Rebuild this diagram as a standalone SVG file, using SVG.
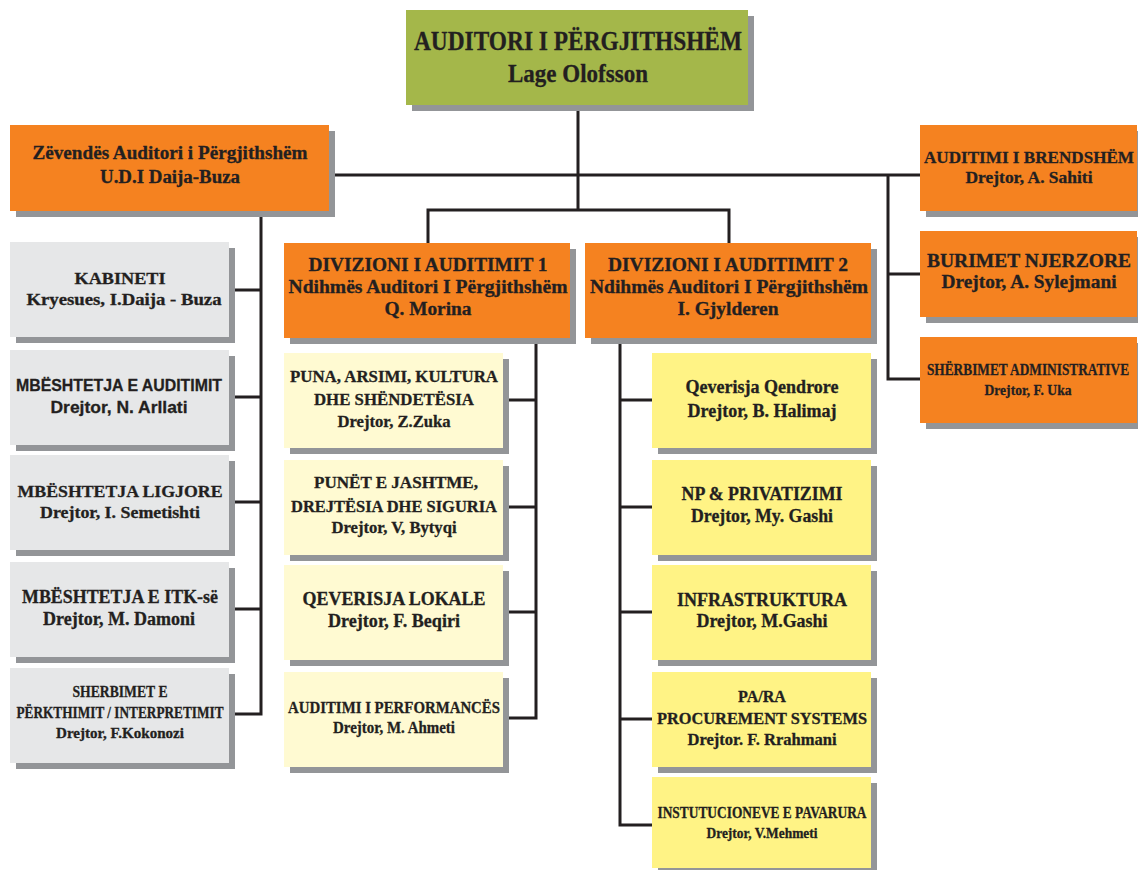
<svg xmlns="http://www.w3.org/2000/svg" width="1138" height="870" viewBox="0 0 1138 870">
<style>
.sh{fill:#939598}
.gn{fill:#A4B74A}
.or{fill:#F58220}
.gr{fill:#E6E7E8}
.ly{fill:#FFFAD2}
.ye{fill:#FFF385}
text{font-family:"Liberation Serif","Times New Roman",serif;font-weight:bold;fill:#231F20;stroke:#231F20;stroke-width:0.3px;text-anchor:middle}
.s{font-family:"Liberation Sans",Arial,sans-serif}
.f16{font-size:17px}
.f17{font-size:18px}
.f14{font-size:15px}
.cn{fill:none;stroke:#231F20;stroke-width:3}
</style>
<rect width="1138" height="870" fill="#FFFFFF"/>
<g id="connectors">
<path class="cn" d="M578 105V210M428 243V210H729V243M329 175H920M261 211V714H229M229 290H261M229 397H261M229 502H261M229 609H261M888 175V379H920M888 274H920M536 338V718H503M503 400H536M503 507H536M503 612H536M620 338V825H652M620 400H652M620 507H652M620 612H652M620 719H652"/>
</g>
<g id="auditori">
<rect class="sh" x="412" y="16" width="342" height="95"/>
<rect class="gn" x="406" y="10" width="342" height="95"/>
<text x="578" y="50" style="font-size:27px" textLength="328" lengthAdjust="spacingAndGlyphs">AUDITORI I PËRGJITHSHËM</text>
<text x="578" y="82" style="font-size:26px" textLength="140" lengthAdjust="spacingAndGlyphs">Lage Olofsson</text>
</g>
<g id="zevendes">
<rect class="sh" x="16" y="131" width="319" height="86"/>
<rect class="or" x="10" y="125" width="319" height="86"/>
<text class="f17" x="170" y="159" textLength="275" lengthAdjust="spacingAndGlyphs">Zëvendës Auditori i Përgjithshëm</text>
<text class="f17" x="170" y="183" textLength="140" lengthAdjust="spacingAndGlyphs">U.D.I Daija-Buza</text>
</g>
<g id="auditimi-brendshem">
<rect class="sh" x="926" y="131" width="217" height="86"/>
<rect class="or" x="920" y="125" width="217" height="86"/>
<text class="f16" x="1029" y="163" textLength="210" lengthAdjust="spacingAndGlyphs">AUDITIMI I BRENDSHËM</text>
<text class="f16" x="1029" y="183" textLength="127" lengthAdjust="spacingAndGlyphs">Drejtor, A. Sahiti</text>
</g>
<g id="burimet-njerzore">
<rect class="sh" x="926" y="237" width="217" height="86"/>
<rect class="or" x="920" y="231" width="217" height="86"/>
<text class="f17" x="1029" y="267" textLength="204" lengthAdjust="spacingAndGlyphs">BURIMET NJERZORE</text>
<text class="f17" x="1029" y="288" textLength="175" lengthAdjust="spacingAndGlyphs">Drejtor, A. Sylejmani</text>
</g>
<g id="sherbimet-administrative">
<rect class="sh" x="926" y="343" width="217" height="86"/>
<rect class="or" x="920" y="337" width="217" height="86"/>
<text class="f16" transform="translate(1028 375) scale(0.785 1)" x="0" y="0">SHËRBIMET ADMINISTRATIVE</text>
<text class="f14" x="1028" y="395" textLength="87" lengthAdjust="spacingAndGlyphs">Drejtor, F. Uka</text>
</g>
<g id="kabineti">
<rect class="sh" x="16" y="248" width="219" height="95"/>
<rect class="gr" x="10" y="242" width="219" height="95"/>
<text class="f16" x="120" y="284" textLength="91" lengthAdjust="spacingAndGlyphs">KABINETI</text>
<text class="f16" x="124" y="305" textLength="195" lengthAdjust="spacingAndGlyphs">Kryesues, I.Daija - Buza</text>
</g>
<g id="mbeshtetja-auditimit">
<rect class="sh" x="16" y="356" width="219" height="95"/>
<rect class="gr" x="10" y="350" width="219" height="95"/>
<text class="f16 s" x="119" y="391" textLength="206" lengthAdjust="spacingAndGlyphs">MBËSHTETJA E AUDITIMIT</text>
<text class="f16 s" x="119" y="413" textLength="137" lengthAdjust="spacingAndGlyphs">Drejtor, N. Arllati</text>
</g>
<g id="mbeshtetja-ligjore">
<rect class="sh" x="16" y="461" width="219" height="95"/>
<rect class="gr" x="10" y="455" width="219" height="95"/>
<text class="f16" x="120" y="497" textLength="205" lengthAdjust="spacingAndGlyphs">MBËSHTETJA LIGJORE</text>
<text class="f16" x="120" y="518" textLength="160" lengthAdjust="spacingAndGlyphs">Drejtor, I. Semetishti</text>
</g>
<g id="mbeshtetja-itk">
<rect class="sh" x="16" y="568" width="219" height="95"/>
<rect class="gr" x="10" y="562" width="219" height="95"/>
<text class="f17" x="120" y="603" textLength="196" lengthAdjust="spacingAndGlyphs">MBËSHTETJA E ITK-së</text>
<text class="f17" x="119" y="625" textLength="152" lengthAdjust="spacingAndGlyphs">Drejtor, M. Damoni</text>
</g>
<g id="sherbimet-perkthimit">
<rect class="sh" x="16" y="674" width="219" height="95"/>
<rect class="gr" x="10" y="668" width="219" height="95"/>
<text class="f16" x="120" y="697" textLength="95" lengthAdjust="spacingAndGlyphs">SHERBIMET E</text>
<text class="f16" x="120" y="718" textLength="207" lengthAdjust="spacingAndGlyphs">PËRKTHIMIT / INTERPRETIMIT</text>
<text class="f14" x="120" y="738" textLength="128" lengthAdjust="spacingAndGlyphs">Drejtor, F.Kokonozi</text>
</g>
<g id="divizioni-1">
<rect class="sh" x="290" y="249" width="286" height="95"/>
<rect class="or" x="284" y="243" width="286" height="95"/>
<text class="f17" x="428" y="271" textLength="239" lengthAdjust="spacingAndGlyphs">DIVIZIONI I AUDITIMIT 1</text>
<text class="f17" x="428" y="293" textLength="279" lengthAdjust="spacingAndGlyphs">Ndihmës Auditori I Përgjithshëm</text>
<text class="f17" x="428" y="315" textLength="87" lengthAdjust="spacingAndGlyphs">Q. Morina</text>
</g>
<g id="divizioni-2">
<rect class="sh" x="591" y="249" width="286" height="95"/>
<rect class="or" x="585" y="243" width="286" height="95"/>
<text class="f17" x="728" y="271" textLength="240" lengthAdjust="spacingAndGlyphs">DIVIZIONI I AUDITIMIT 2</text>
<text class="f17" x="729" y="293" textLength="278" lengthAdjust="spacingAndGlyphs">Ndihmës Auditori I Përgjithshëm</text>
<text class="f17" x="728" y="315" textLength="101" lengthAdjust="spacingAndGlyphs">I. Gjylderen</text>
</g>
<g id="puna-arsimi">
<rect class="sh" x="290" y="359" width="219" height="95"/>
<rect class="ly" x="284" y="353" width="219" height="95"/>
<text class="f16" x="394" y="382" textLength="208" lengthAdjust="spacingAndGlyphs">PUNA, ARSIMI, KULTURA</text>
<text class="f16" x="394" y="405" textLength="160" lengthAdjust="spacingAndGlyphs">DHE SHËNDETËSIA</text>
<text class="f16" x="394" y="427" textLength="113" lengthAdjust="spacingAndGlyphs">Drejtor, Z.Zuka</text>
</g>
<g id="punet-jashtme">
<rect class="sh" x="290" y="466" width="219" height="95"/>
<rect class="ly" x="284" y="460" width="219" height="95"/>
<text class="f16" x="396" y="488" textLength="164" lengthAdjust="spacingAndGlyphs">PUNËT E JASHTME,</text>
<text class="f16" x="394" y="512" textLength="206" lengthAdjust="spacingAndGlyphs">DREJTËSIA DHE SIGURIA</text>
<text class="f16" x="394" y="533" textLength="125" lengthAdjust="spacingAndGlyphs">Drejtor, V, Bytyqi</text>
</g>
<g id="qeverisja-lokale">
<rect class="sh" x="290" y="571" width="219" height="95"/>
<rect class="ly" x="284" y="565" width="219" height="95"/>
<text class="f17" x="394" y="605" textLength="183" lengthAdjust="spacingAndGlyphs">QEVERISJA LOKALE</text>
<text class="f17" x="394" y="627" textLength="132" lengthAdjust="spacingAndGlyphs">Drejtor, F. Beqiri</text>
</g>
<g id="auditimi-performances">
<rect class="sh" x="290" y="678" width="219" height="95"/>
<rect class="ly" x="284" y="672" width="219" height="95"/>
<text class="f16" x="394" y="713" textLength="212" lengthAdjust="spacingAndGlyphs">AUDITIMI I PERFORMANCËS</text>
<text class="f16" x="394" y="733" textLength="122" lengthAdjust="spacingAndGlyphs">Drejtor, M. Ahmeti</text>
</g>
<g id="qeverisja-qendrore">
<rect class="sh" x="658" y="359" width="219" height="95"/>
<rect class="ye" x="652" y="353" width="219" height="95"/>
<text class="f17" x="762" y="393" textLength="153" lengthAdjust="spacingAndGlyphs">Qeverisja Qendrore</text>
<text class="f17" x="762" y="417" textLength="149" lengthAdjust="spacingAndGlyphs">Drejtor, B. Halimaj</text>
</g>
<g id="np-privatizimi">
<rect class="sh" x="658" y="466" width="219" height="95"/>
<rect class="ye" x="652" y="460" width="219" height="95"/>
<text class="f17" x="762" y="500" textLength="161" lengthAdjust="spacingAndGlyphs">NP &amp; PRIVATIZIMI</text>
<text class="f17" x="762" y="522" textLength="142" lengthAdjust="spacingAndGlyphs">Drejtor, My. Gashi</text>
</g>
<g id="infrastruktura">
<rect class="sh" x="658" y="571" width="219" height="95"/>
<rect class="ye" x="652" y="565" width="219" height="95"/>
<text class="f17" x="762" y="606" textLength="170" lengthAdjust="spacingAndGlyphs">INFRASTRUKTURA</text>
<text class="f17" x="762" y="627" textLength="131" lengthAdjust="spacingAndGlyphs">Drejtor, M.Gashi</text>
</g>
<g id="procurement-systems">
<rect class="sh" x="658" y="678" width="219" height="95"/>
<rect class="ye" x="652" y="672" width="219" height="95"/>
<text class="f16" x="762" y="702" textLength="48" lengthAdjust="spacingAndGlyphs">PA/RA</text>
<text class="f16" x="762" y="724" textLength="210" lengthAdjust="spacingAndGlyphs">PROCUREMENT SYSTEMS</text>
<text class="f16" x="762" y="745" textLength="149" lengthAdjust="spacingAndGlyphs">Drejtor. F. Rrahmani</text>
</g>
<g id="institucioneve-pavarura">
<rect class="sh" x="658" y="783" width="219" height="91"/>
<rect class="ye" x="652" y="777" width="219" height="91"/>
<text class="f16" x="762" y="818" textLength="209" lengthAdjust="spacingAndGlyphs">INSTUTUCIONEVE E PAVARURA</text>
<text class="f14" x="762" y="838" textLength="111" lengthAdjust="spacingAndGlyphs">Drejtor, V.Mehmeti</text>
</g>
</svg>
